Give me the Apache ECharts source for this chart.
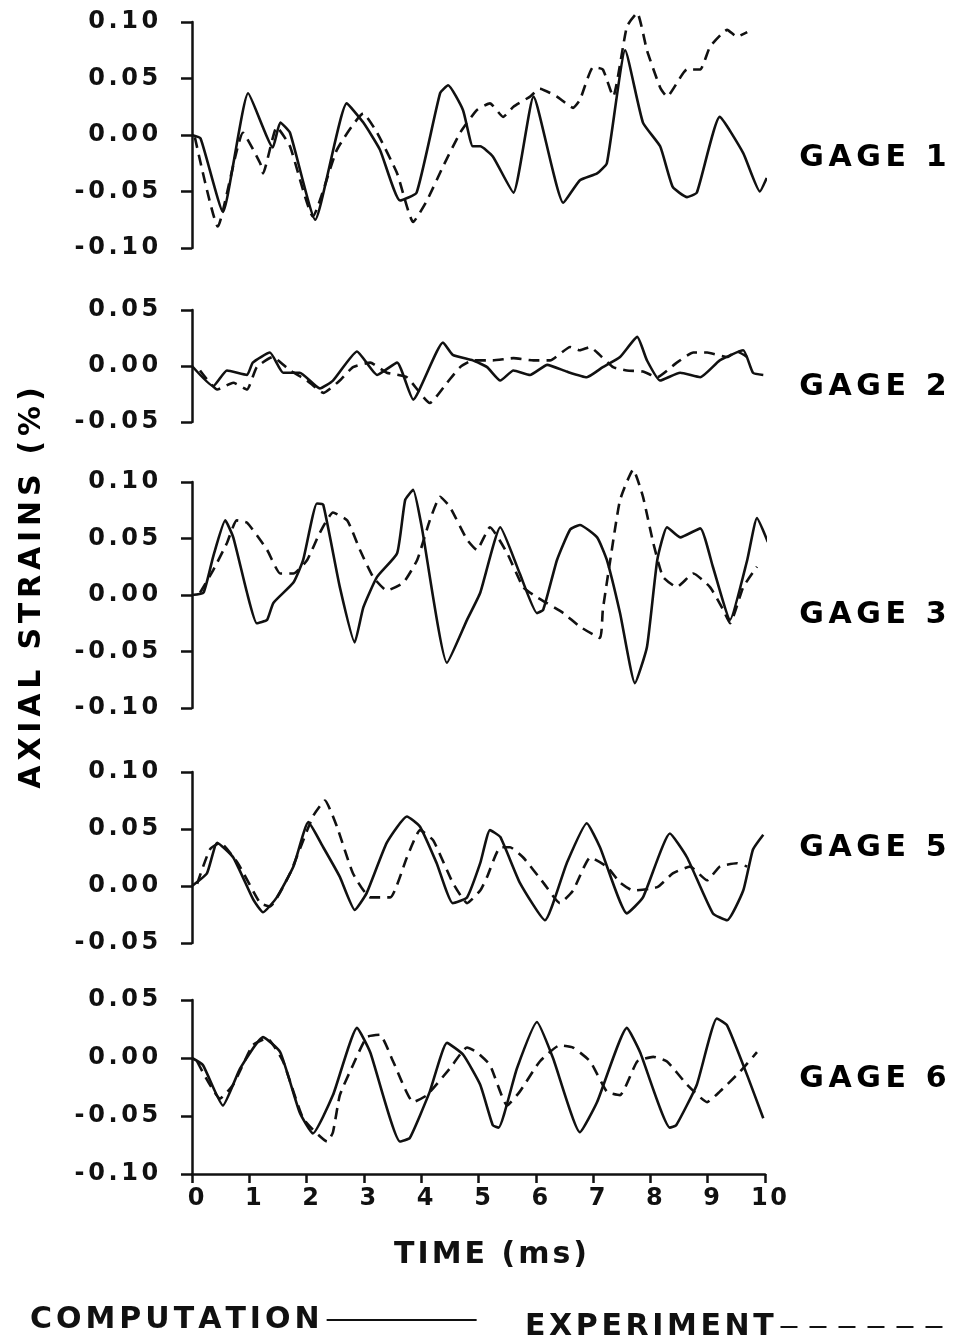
<!DOCTYPE html>
<html>
<head>
<meta charset="utf-8">
<script src="https://cdn.jsdelivr.net/npm/echarts@6/dist/echarts.min.js"></script>
<style>
  html, body { margin: 0; padding: 0; background: #fff; }
  #main { width: 959px; height: 1344px; }
</style>
</head>
<body>
<div id="main"></div>
<script>
// time (ms), strain (%) pairs
var gage1Comp = [[0,0],[0.15,-0.003],[0.54,-0.068],[0.98,0.037],[1.41,-0.011],[1.54,0.011],[1.71,0.002],[2.15,-0.075],[2.70,0.028],[2.99,0.011],[3.28,-0.013],[3.63,-0.058],[3.92,-0.051],[4.33,0.037],[4.47,0.044],[4.73,0.022],[4.90,-0.010],[5.03,-0.010],[5.25,-0.019],[5.61,-0.051],[5.96,0.034],[6.48,-0.060],[6.77,-0.040],[7.07,-0.034],[7.24,-0.025],[7.56,0.075],[7.87,0.011],[8.17,-0.010],[8.39,-0.046],[8.64,-0.055],[8.81,-0.051],[9.21,0.016],[9.62,-0.016],[9.91,-0.050],[10.03,-0.038]];
var gage1Exp = [[0.05,-0.002],[0.45,-0.081],[0.89,0.002],[1.19,-0.025],[1.24,-0.034],[1.48,0.007],[1.71,-0.010],[2.11,-0.072],[2.53,-0.013],[2.99,0.019],[3.23,0.002],[3.58,-0.034],[3.86,-0.077],[4.10,-0.058],[4.38,-0.028],[4.68,0.002],[4.97,0.022],[5.20,0.028],[5.43,0.016],[5.61,0.025],[5.90,0.034],[6.07,0.041],[6.37,0.034],[6.65,0.024],[6.77,0.031],[7.00,0.060],[7.17,0.058],[7.35,0.034],[7.59,0.096],[7.77,0.108],[7.94,0.075],[8.17,0.042],[8.29,0.034],[8.64,0.058],[8.87,0.058],[9.04,0.078],[9.34,0.093],[9.51,0.087],[9.69,0.091]];

var gage2Comp = [[0,0],[0.37,-0.018],[0.61,-0.004],[0.96,-0.008],[1.06,0.003],[1.36,0.012],[1.59,-0.006],[1.88,-0.006],[2.23,-0.020],[2.46,-0.013],[2.88,0.013],[3.23,-0.008],[3.58,0.003],[3.86,-0.030],[4.38,0.021],[4.55,0.010],[4.90,0.005],[5.15,-0.001],[5.38,-0.013],[5.61,-0.004],[5.90,-0.008],[6.20,0.001],[6.54,-0.005],[6.89,-0.010],[7.17,-0.001],[7.47,0.008],[7.77,0.026],[7.94,0.005],[8.17,-0.013],[8.52,-0.006],[8.87,-0.010],[9.21,0.005],[9.62,0.014],[9.79,-0.006],[9.97,-0.008]];
var gage2Exp = [[0.14,-0.004],[0.44,-0.021],[0.72,-0.015],[0.96,-0.021],[1.13,-0.001],[1.41,0.008],[1.71,-0.004],[2.01,-0.013],[2.29,-0.024],[2.58,-0.013],[2.81,-0.001],[3.11,0.003],[3.40,-0.006],[3.75,-0.010],[4.15,-0.033],[4.45,-0.015],[4.68,-0.001],[4.90,0.005],[5.25,0.005],[5.61,0.007],[5.96,0.005],[6.25,0.005],[6.60,0.017],[6.77,0.014],[6.95,0.017],[7.07,0.012],[7.35,-0.001],[7.59,-0.004],[7.87,-0.005],[8.12,-0.010],[8.46,0.003],[8.75,0.012],[8.99,0.012],[9.34,0.008],[9.51,0.013],[9.69,0.008]];

var gage3Comp = [[0,0],[0.20,0.002],[0.37,0.034],[0.58,0.066],[0.72,0.051],[0.96,0.002],[1.13,-0.025],[1.31,-0.022],[1.42,-0.007],[1.77,0.011],[1.94,0.031],[2.18,0.081],[2.29,0.080],[2.58,0.007],[2.84,-0.042],[2.99,-0.011],[3.23,0.016],[3.58,0.037],[3.72,0.084],[3.86,0.093],[4.01,0.060],[4.45,-0.060],[4.80,-0.022],[5.03,0.002],[5.38,0.060],[5.72,0.019],[6.02,-0.016],[6.13,-0.013],[6.37,0.031],[6.60,0.058],[6.77,0.062],[7.07,0.051],[7.24,0.031],[7.47,-0.016],[7.73,-0.078],[7.94,-0.046],[8.12,0.031],[8.29,0.060],[8.52,0.051],[8.87,0.059],[9.09,0.025],[9.39,-0.022],[9.69,0.031],[9.86,0.068],[10.05,0.047]];
var gage3Exp = [[0.14,0.002],[0.37,0.022],[0.61,0.046],[0.78,0.066],[0.96,0.064],[1.31,0.040],[1.54,0.019],[1.77,0.019],[2.01,0.031],[2.23,0.055],[2.46,0.073],[2.71,0.066],[2.93,0.040],[3.16,0.016],[3.40,0.004],[3.69,0.011],[3.93,0.031],[4.15,0.066],[4.33,0.087],[4.50,0.078],[4.80,0.049],[4.97,0.040],[5.20,0.060],[5.50,0.037],[5.78,0.007],[6.02,-0.002],[6.48,-0.016],[6.77,-0.028],[7.12,-0.038],[7.17,-0.013],[7.30,0.031],[7.47,0.084],[7.70,0.111],[7.87,0.087],[8.05,0.046],[8.22,0.016],[8.46,0.007],[8.75,0.019],[9.04,0.007],[9.27,-0.013],[9.39,-0.025],[9.62,0.007],[9.86,0.025]];

var gage5Comp = [[0,0],[0.26,0.011],[0.44,0.038],[0.72,0.025],[1.07,-0.012],[1.24,-0.023],[1.48,-0.010],[1.77,0.017],[2.03,0.056],[2.29,0.034],[2.58,0.008],[2.84,-0.021],[3.05,-0.006],[3.40,0.038],[3.75,0.061],[3.98,0.052],[4.27,0.020],[4.55,-0.015],[4.80,-0.010],[5.03,0.020],[5.20,0.049],[5.38,0.043],[5.72,0.003],[6.16,-0.030],[6.54,0.020],[6.89,0.055],[7.12,0.034],[7.59,-0.024],[7.87,-0.010],[8.34,0.046],[8.64,0.025],[9.09,-0.024],[9.34,-0.030],[9.62,-0.004],[9.79,0.032],[9.97,0.045]];
var gage5Exp = [[0.09,0.002],[0.31,0.032],[0.49,0.038],[0.80,0.020],[1.19,-0.015],[1.36,-0.018],[1.71,0.011],[2.11,0.061],[2.32,0.075],[2.53,0.052],[2.81,0.011],[3.11,-0.010],[3.46,-0.010],[3.75,0.025],[3.98,0.049],[4.21,0.040],[4.55,0.003],[4.80,-0.015],[5.03,-0.004],[5.15,0.008],[5.38,0.034],[5.55,0.034],[5.78,0.025],[6.13,0.003],[6.42,-0.015],[6.65,-0.004],[6.95,0.025],[7.24,0.017],[7.47,0.003],[7.70,-0.004],[8.12,-0.001],[8.39,0.011],[8.69,0.017],[8.99,0.005],[9.21,0.017],[9.51,0.020],[9.69,0.017]];

var gage6Comp = [[0,0],[0.19,-0.006],[0.54,-0.041],[0.84,-0.009],[1.24,0.018],[1.54,0.005],[1.88,-0.047],[2.11,-0.065],[2.46,-0.032],[2.88,0.026],[3.11,0.005],[3.63,-0.072],[3.80,-0.069],[4.15,-0.029],[4.45,0.013],[4.73,0.003],[5.03,-0.023],[5.25,-0.058],[5.35,-0.060],[5.67,-0.009],[6.02,0.031],[6.30,0.000],[6.77,-0.064],[7.07,-0.038],[7.59,0.026],[7.82,0.005],[8.34,-0.060],[8.45,-0.058],[8.81,-0.023],[9.16,0.034],[9.34,0.028],[9.69,-0.015],[9.97,-0.052]];
var gage6Exp = [[0.09,-0.003],[0.49,-0.035],[0.72,-0.023],[1.06,0.011],[1.31,0.017],[1.59,-0.003],[1.94,-0.052],[2.36,-0.072],[2.46,-0.064],[2.58,-0.032],[2.81,-0.006],[3.05,0.018],[3.28,0.020],[3.51,-0.003],[3.86,-0.038],[4.10,-0.032],[4.50,-0.009],[4.80,0.009],[4.97,0.005],[5.20,-0.006],[5.50,-0.041],[5.72,-0.029],[6.07,-0.003],[6.42,0.011],[6.65,0.009],[6.95,-0.003],[7.24,-0.029],[7.47,-0.032],[7.77,-0.003],[8.05,0.001],[8.29,-0.003],[8.64,-0.023],[8.99,-0.038],[9.21,-0.029],[9.56,-0.012],[9.86,0.005]];

var gageNames = ['GAGE 1', 'GAGE 2', 'GAGE 3', 'GAGE 5', 'GAGE 6'];
var yMins = [-0.10, -0.05, -0.10, -0.05, -0.10];
var yMaxs = [0.10, 0.05, 0.10, 0.10, 0.05];
var compData = [gage1Comp, gage2Comp, gage3Comp, gage5Comp, gage6Comp];
var expData = [gage1Exp, gage2Exp, gage3Exp, gage5Exp, gage6Exp];

var chart = echarts.init(document.getElementById('main'));

var FONT = 'DejaVu Sans';
var INK = '#111';

// wide letter spacing like the old lettering: one rich token per char
function spaced(s) {
    return s.split('').map(function (c) { return '{s|' + c + '}'; }).join('');
}
function richSpaced(size, pad, color) {
    return { s: { fontFamily: FONT, fontWeight: 'bold', fontSize: size, color: color || INK, padding: [0, pad, 0, pad] } };
}

// grid boxes (px)
var tops = [22, 310, 482, 772, 1000];
var heights = [226, 112, 226, 171, 174];
var labelY = [158, 387, 615, 848, 1079];

var grids = [], xAxes = [], yAxes = [], series = [], texts = [];
for (var i = 0; i < 5; i++) {
    grids.push({ left: 192, top: tops[i], width: 573, height: heights[i] });
    var last = i === 4;
    xAxes.push({
        type: 'value', gridIndex: i, min: 0, max: 10, interval: 1,
        show: last,
        name: last ? spaced('TIME (ms)') : '',
        nameLocation: 'middle', nameGap: 66,
        nameTextStyle: { rich: richSpaced(30, 1.5), padding: [0, 0, 0, 24] },
        axisLine: { show: true, onZero: false, lineStyle: { color: INK, width: 2.5 } },
        axisTick: { show: true, length: 9, lineStyle: { color: INK, width: 2.5 } },
        axisLabel: {
            margin: 13,
            padding: [0, 0, 0, 8],
            formatter: function (v) { return spaced(String(v)); },
            rich: richSpaced(24, 1.2)
        },
        splitLine: { show: false }
    });
    yAxes.push({
        type: 'value', gridIndex: i, min: yMins[i], max: yMaxs[i], interval: 0.05,
        axisLine: { show: true, onZero: false, lineStyle: { color: INK, width: 2.5 } },
        axisTick: { show: true, length: 11, lineStyle: { color: INK, width: 2.5 } },
        axisLabel: {
            margin: 32,
            formatter: function (v) {
                if (Math.abs(v) < 1e-9) v = 0;
                return spaced(v.toFixed(2));
            },
            rich: richSpaced(24, 1.8)
        },
        splitLine: { show: false }
    });
    series.push({
        name: 'COMPUTATION', type: 'line', xAxisIndex: i, yAxisIndex: i,
        data: compData[i], symbol: 'none', smooth: 0.15, clip: false,
        itemStyle: { color: INK },
        lineStyle: { color: INK, width: 2.6 }
    });
    series.push({
        name: 'EXPERIMENT', type: 'line', xAxisIndex: i, yAxisIndex: i,
        data: expData[i], symbol: 'none', smooth: 0.15, clip: false,
        itemStyle: { color: INK },
        lineStyle: { color: INK, width: 2.6, type: [11, 7] }
    });
    texts.push({
        type: 'text', x: 797, y: labelY[i],
        style: {
            text: spaced(gageNames[i]), verticalAlign: 'middle',
            rich: richSpaced(30, 2.3, i === 0 ? '#3a3a3a' : '#1a1a1a')
        }
    });
}

texts.push({
    type: 'text', x: 32, y: 588, rotation: Math.PI / 2,
    style: {
        text: spaced('AXIAL STRAINS (%)'), align: 'center', verticalAlign: 'middle',
        rich: richSpaced(30, 2.4)
    }
});

option = {
    backgroundColor: '#fff',
    animation: false,
    grid: grids,
    xAxis: xAxes,
    yAxis: yAxes,
    legend: [
        {
            data: ['COMPUTATION'], left: 25, top: 1300, align: 'right',
            itemWidth: 150, itemHeight: 14, selectedMode: false,
            itemStyle: { opacity: 0 },
            lineStyle: { width: 2 },
            formatter: function (n) { return spaced(n); },
            textStyle: { rich: richSpaced(30, 2.0) }
        },
        {
            data: ['EXPERIMENT'], left: 520, top: 1307, align: 'right',
            itemWidth: 168, itemHeight: 14, selectedMode: false,
            itemStyle: { opacity: 0 },
            lineStyle: { width: 2.2, type: [17, 12] },
            formatter: function (n) { return spaced(n); },
            textStyle: { rich: richSpaced(30, 1.8) }
        }
    ],
    graphic: texts,
    series: series
};
chart.setOption(option);
</script>
</body>
</html>
